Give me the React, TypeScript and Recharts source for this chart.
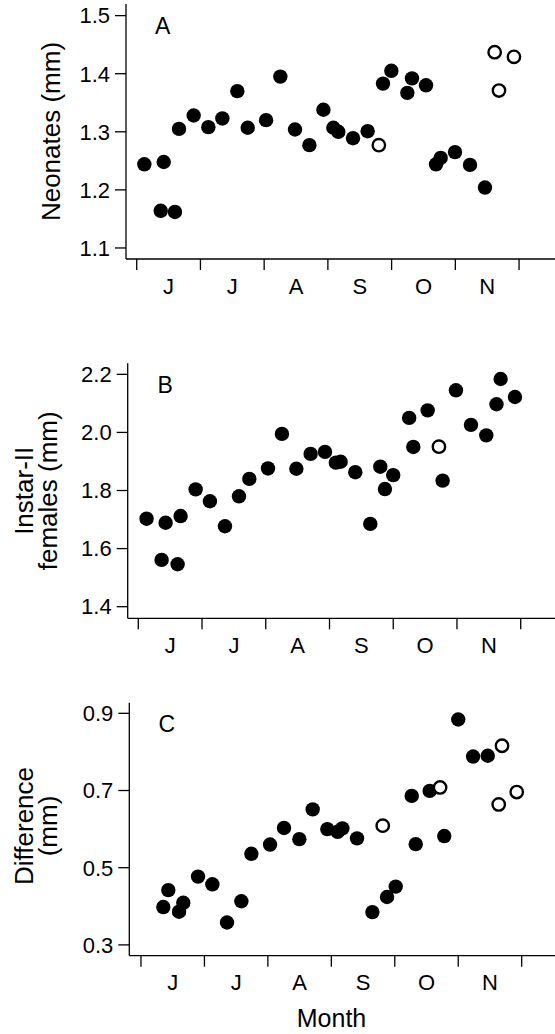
import React from 'react';
import { ScatterChart, Scatter, XAxis, YAxis } from 'recharts';

const FONT = '"Liberation Sans", Arial, Helvetica, sans-serif';

// Month axis: boundaries (start of each month, in months since 1 June) and labels
const monthLabels = ['J', 'J', 'A', 'S', 'O', 'N'];
const monthBoundaries = [0, 1, 2, 3, 4, 5, 6];
const monthMidpoints = monthLabels.map((_, i) => i + 0.5);
const monthTicks = [...monthBoundaries, ...monthMidpoints].sort((a, b) => a - b);

// Panel A – Neonates (mm)
const aFilledX = [0.12, 0.377, 0.424, 0.6, 0.664, 0.894, 1.124, 1.344, 1.579, 1.742, 2.03, 2.254, 2.484, 2.71, 2.93, 3.086, 3.164, 3.394, 3.624, 3.865, 3.996, 4.247, 4.32, 4.54, 4.697, 4.77, 4.995, 5.23, 5.465];
const aFilledY = [1.244, 1.164, 1.248, 1.162, 1.305, 1.328, 1.308, 1.323, 1.37, 1.307, 1.32, 1.395, 1.304, 1.277, 1.338, 1.307, 1.3, 1.289, 1.301, 1.383, 1.405, 1.367, 1.392, 1.38, 1.244, 1.255, 1.265, 1.243, 1.204];
const aOpenX = [3.8, 5.617, 5.685, 5.92];
const aOpenY = [1.277, 1.437, 1.371, 1.429];
const aTicks = [1.1, 1.2, 1.3, 1.4, 1.5];

// Panel B – Instar-II females (mm)
const bFilledX = [0.13, 0.366, 0.429, 0.617, 0.664, 0.9, 1.124, 1.36, 1.58, 1.742, 2.035, 2.254, 2.48, 2.704, 2.929, 3.1, 3.175, 3.405, 3.64, 3.797, 3.87, 4.0, 4.25, 4.315, 4.54, 4.775, 4.984, 5.22, 5.46, 5.62, 5.685, 5.91];
const bFilledY = [1.703, 1.561, 1.689, 1.546, 1.712, 1.804, 1.763, 1.677, 1.78, 1.84, 1.876, 1.995, 1.875, 1.926, 1.933, 1.896, 1.899, 1.863, 1.685, 1.882, 1.805, 1.853, 2.05, 1.95, 2.076, 1.834, 2.145, 2.026, 1.99, 2.097, 2.184, 2.122];
const bOpenX = [4.717];
const bOpenY = [1.951];
const bTicks = [1.4, 1.6, 1.8, 2.0, 2.2];

// Panel C – Difference (mm)
const cFilledX = [0.352, 0.431, 0.6, 0.667, 0.899, 1.125, 1.356, 1.582, 1.74, 2.034, 2.254, 2.496, 2.706, 2.937, 3.1, 3.174, 3.405, 3.647, 3.878, 4.015, 4.267, 4.33, 4.55, 4.78, 5.0, 5.234, 5.465];
const cFilledY = [0.398, 0.442, 0.386, 0.409, 0.477, 0.457, 0.358, 0.413, 0.536, 0.56, 0.603, 0.574, 0.651, 0.6, 0.593, 0.602, 0.576, 0.385, 0.424, 0.451, 0.686, 0.561, 0.699, 0.582, 0.884, 0.788, 0.79];
const cOpenX = [3.81, 4.714, 5.638, 5.69, 5.922];
const cOpenY = [0.609, 0.708, 0.664, 0.816, 0.696];
const cTicks = [0.3, 0.5, 0.7, 0.9];

const zip = (xs: number[], ys: number[]) => xs.map((x, i) => ({ x, y: ys[i] }));

const FilledDot = (p: any) => <circle cx={p.cx} cy={p.cy} r={7.2} fill="#000" />;
const OpenDot = (p: any) => (
  <circle cx={p.cx} cy={p.cy} r={6.2} fill="#fff" stroke="#000" strokeWidth={2.4} />
);

const MonthTick = (p: any) => {
  const { x, y, payload } = p;
  const v = payload.value;
  if (Number.isInteger(v)) {
    return <line x1={x} y1={y} x2={x} y2={y + 11} stroke="#000" strokeWidth={1.3} />;
  }
  return (
    <text x={x} y={y + 19} dy="0.71em" textAnchor="middle" fontSize={22} fill="#000" fontFamily={FONT}>
      {monthLabels[Math.floor(v)]}
    </text>
  );
};

const fmt = (v: number) => v.toFixed(1);

type PanelProps = {
  top: number;
  height: number;
  marginTop: number;
  marginBottom: number;
  yWidth: number;
  xDomain: [number, number];
  yDomain: [number, number];
  yTicks: number[];
  filled: { x: number; y: number }[];
  open: { x: number; y: number }[];
  letter: string;
  letterX: number;
  letterY: number;
  titleLines: string[];
  titleXs: number[];
  titleY: number;
  children?: React.ReactNode;
};

function Panel(props: PanelProps) {
  const {
    top, height, marginTop, marginBottom, yWidth, xDomain, yDomain, yTicks,
    filled, open, letter, letterX, letterY, titleLines, titleXs, titleY, children,
  } = props;
  return (
    <div style={{ position: 'absolute', left: 0, top, width: 555, height }}>
      <ScatterChart
        width={555}
        height={height}
        margin={{ top: marginTop, right: 0, bottom: marginBottom, left: 0 }}
      >
        <XAxis
          type="number"
          dataKey="x"
          domain={xDomain}
          allowDataOverflow
          ticks={monthTicks}
          interval={0}
          tick={(tp: any) => <MonthTick {...tp} />}
          tickLine={false}
          tickSize={0}
          tickMargin={0}
          height={41}
          axisLine={{ stroke: '#000', strokeWidth: 1.3 }}
        />
        <YAxis
          type="number"
          dataKey="y"
          domain={yDomain}
          allowDataOverflow
          ticks={yTicks}
          interval={0}
          width={yWidth}
          tickSize={11}
          tickMargin={5}
          tickFormatter={fmt}
          tick={{ fill: '#000', fontSize: 22, fontFamily: FONT }}
          tickLine={{ stroke: '#000', strokeWidth: 1.3 }}
          axisLine={{ stroke: '#000', strokeWidth: 1.3 }}
        />
        <Scatter data={filled} shape={FilledDot} isAnimationActive={false} />
        <Scatter data={open} shape={OpenDot} isAnimationActive={false} />
        <text x={letterX} y={letterY} fontSize={23} fontFamily={FONT} fill="#000">
          {letter}
        </text>
        {titleLines.map((line, i) => (
          <text
            key={i}
            x={titleXs[i]}
            y={titleY}
            transform={`rotate(-90 ${titleXs[i]} ${titleY})`}
            textAnchor="middle"
            fontSize={26}
            fontFamily={FONT}
            fill="#000"
          >
            {line}
          </text>
        ))}
        {children}
      </ScatterChart>
    </div>
  );
}

export default function App() {
  return (
    <div style={{ position: 'absolute', left: 0, top: 0, width: 555, height: 1034, background: '#fff' }}>
      <Panel
        top={0}
        height={300}
        marginTop={4}
        marginBottom={0}
        yWidth={126}
        xDomain={[-0.168, 6.564]}
        yDomain={[1.081, 1.52]}
        yTicks={aTicks}
        filled={zip(aFilledX, aFilledY)}
        open={zip(aOpenX, aOpenY)}
        letter="A"
        letterX={155}
        letterY={34}
        titleLines={['Neonates (mm)']}
        titleXs={[60]}
        titleY={131.5}
      />
      <Panel
        top={300}
        height={360}
        marginTop={63.3}
        marginBottom={0.7}
        yWidth={127.7}
        xDomain={[-0.166, 6.538]}
        yDomain={[1.36, 2.238]}
        yTicks={bTicks}
        filled={zip(bFilledX, bFilledY)}
        open={zip(bOpenX, bOpenY)}
        letter="B"
        letterX={157.5}
        letterY={92.7}
        titleLines={['Instar-II', 'females (mm)']}
        titleXs={[33.5, 57]}
        titleY={190.8}
      />
      <Panel
        top={660}
        height={374}
        marginTop={42.7}
        marginBottom={37.3}
        yWidth={129.3}
        xDomain={[-0.184, 6.525]}
        yDomain={[0.272, 0.9275]}
        yTicks={cTicks}
        filled={zip(cFilledX, cFilledY)}
        open={zip(cOpenX, cOpenY)}
        letter="C"
        letterX={158.5}
        letterY={71.7}
        titleLines={['Difference', '(mm)']}
        titleXs={[33.3, 56.5]}
        titleY={166}
      >
        <text x={331.5} y={366.7} textAnchor="middle" fontSize={25} fontFamily={FONT} fill="#000">
          Month
        </text>
      </Panel>
    </div>
  );
}
